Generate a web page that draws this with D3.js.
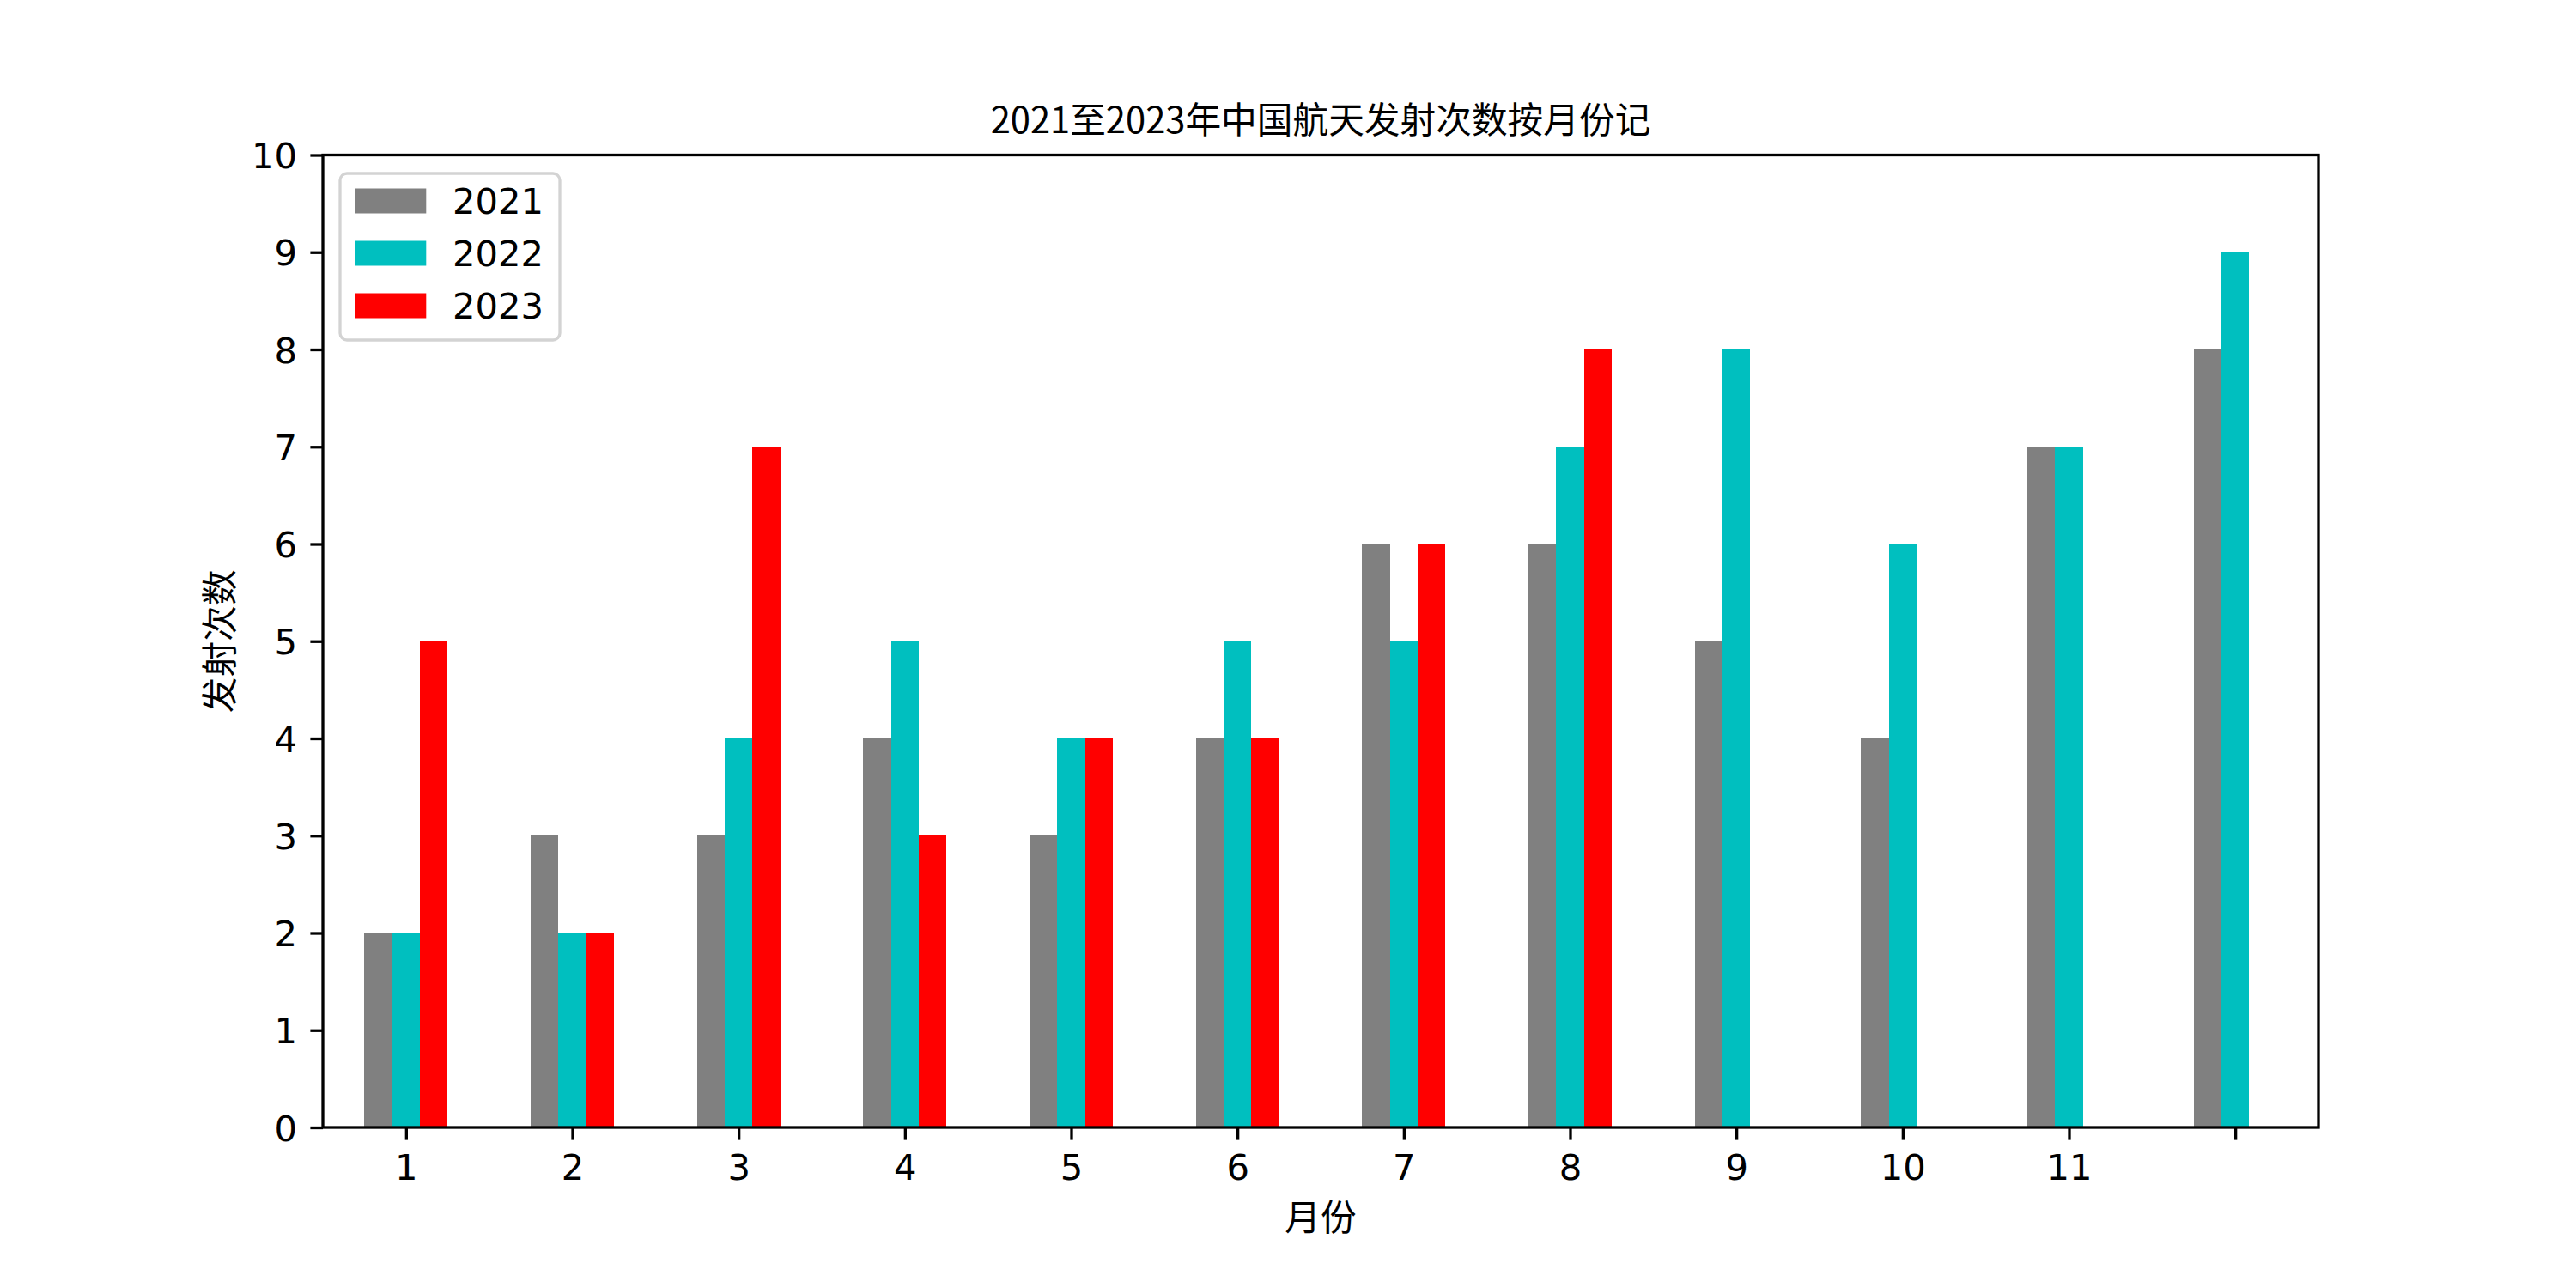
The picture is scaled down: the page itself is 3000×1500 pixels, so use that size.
<!DOCTYPE html>
<html>
<head>
<meta charset="utf-8">
<script src="https://cdn.jsdelivr.net/npm/d3@7"></script>
<style>
  html, body { margin: 0; padding: 0; background: #fff; }
  svg { display: block; }
</style>
</head>
<body>
<script>
// ---- data ----
const months = [1, 2, 3, 4, 5, 6, 7, 8, 9, 10, 11, 12];
const tickLabels = ["1", "2", "3", "4", "5", "6", "7", "8", "9", "10", "11", ""];
const seriesNames = ["2021", "2022", "2023"];
const values2021 = [2, 3, 3, 4, 3, 4, 6, 6, 5, 4, 7, 8];
const values2022 = [2, 2, 4, 5, 4, 5, 5, 7, 8, 6, 7, 9];
const values2023 = [5, 2, 7, 3, 4, 4, 6, 8, null, null, null, null];
const yTicks = [0, 1, 2, 3, 4, 5, 6, 7, 8, 9, 10];
const titleText = "2021至2023年中国航天发射次数按月份记";
const xLabelText = "月份";
const yLabelText = "发射次数";

(function () {
// ---- layout ----
const W = 3000, H = 1500;
const pL = 376, pR = 2700, pT = 180.5, pB = 1313;
const fs = 41.7;
const cjk = '"Noto Sans CJK SC", "Noto Sans", sans-serif';
const latin = '"DejaVu Sans", sans-serif';
const colors = ["#808080", "#00BFBF", "#FF0000"];
const seriesVals = [values2021, values2022, values2023];

const svg = d3.select("body").append("svg").attr("width", W).attr("height", H);
svg.append("rect").attr("width", W).attr("height", H).attr("fill", "#fff");

const x = d3.scaleLinear().domain([0.5, 12.5]).range([pL, pR]);
const y = d3.scaleLinear().domain([0, 10]).range([pB, pT]);
const bw = 1 / 6;

// bars
seriesVals.forEach((vals, si) => {
  const off = (si - 1) * bw;
  svg.append("g").attr("shape-rendering", "crispEdges").selectAll("rect")
    .data(months.map((m, i) => ({ m, v: vals[i] })).filter(d => d.v != null && d.v > 0))
    .join("rect")
    .attr("x", d => x(d.m + off - bw / 2))
    .attr("width", d => x(d.m + off + bw / 2) - x(d.m + off - bw / 2))
    .attr("y", d => y(d.v))
    .attr("height", d => y(0) - y(d.v))
    .attr("fill", colors[si]);
});

// axes
const xAxis = d3.axisBottom(x).tickValues(months).tickFormat((d, i) => tickLabels[i])
  .tickSizeInner(14.6).tickSizeOuter(0).tickPadding(14.6);
const gx = svg.append("g").attr("transform", `translate(0,${pB})`).call(xAxis);
gx.select(".domain").remove();
gx.selectAll(".tick line").attr("stroke", "#000").attr("stroke-width", 3.3);
gx.selectAll(".tick text").attr("font-family", latin).attr("font-size", fs)
  .attr("fill", "#000").attr("dy", null).attr("y", 60.5);

const yAxis = d3.axisLeft(y).tickValues(yTicks).tickFormat(d3.format("d"))
  .tickSizeInner(14.6).tickSizeOuter(0).tickPadding(14.6);
const gy = svg.append("g").attr("transform", `translate(${pL},0)`).call(yAxis);
gy.select(".domain").remove();
gy.selectAll(".tick line").attr("stroke", "#000").attr("stroke-width", 3.3);
gy.selectAll(".tick text").attr("font-family", latin).attr("font-size", fs)
  .attr("fill", "#000").attr("dy", null).attr("x", -30).attr("y", 15.2);

// spines
svg.append("rect").attr("x", pL).attr("y", pT).attr("width", pR - pL)
  .attr("height", pB - pT).attr("fill", "none").attr("stroke", "#000")
  .attr("stroke-width", 3.3);

// title & labels
svg.append("text").attr("x", (pL + pR) / 2).attr("y", 155)
  .attr("text-anchor", "middle").attr("font-family", cjk).attr("font-size", fs)
  .attr("fill", "#000").text(titleText);
svg.append("text").attr("x", (pL + pR) / 2).attr("y", 1433)
  .attr("text-anchor", "middle").attr("font-family", cjk).attr("font-size", fs)
  .attr("fill", "#000").text(xLabelText);
svg.append("text").attr("transform", `translate(271,${(pT + pB) / 2}) rotate(-90)`)
  .attr("text-anchor", "middle").attr("font-family", cjk).attr("font-size", fs)
  .attr("fill", "#000").text(yLabelText);

// legend
const lg = svg.append("g");
lg.append("rect").attr("x", 396).attr("y", 202).attr("width", 256).attr("height", 194)
  .attr("rx", 8).attr("ry", 8).attr("fill", "#fff").attr("fill-opacity", 0.8)
  .attr("stroke", "#d3d3d3").attr("stroke-width", 3.3);
seriesNames.forEach((name, i) => {
  const cy = 234 + i * 61;
  lg.append("rect").attr("x", 413.3).attr("y", cy - 14.5).attr("width", 83).attr("height", 29)
    .attr("fill", colors[i]);
  lg.append("text").attr("x", 527).attr("y", cy + 15.2).attr("font-family", latin)
    .attr("font-size", fs).attr("fill", "#000").text(name);
});
})();
</script>
</body>
</html>
